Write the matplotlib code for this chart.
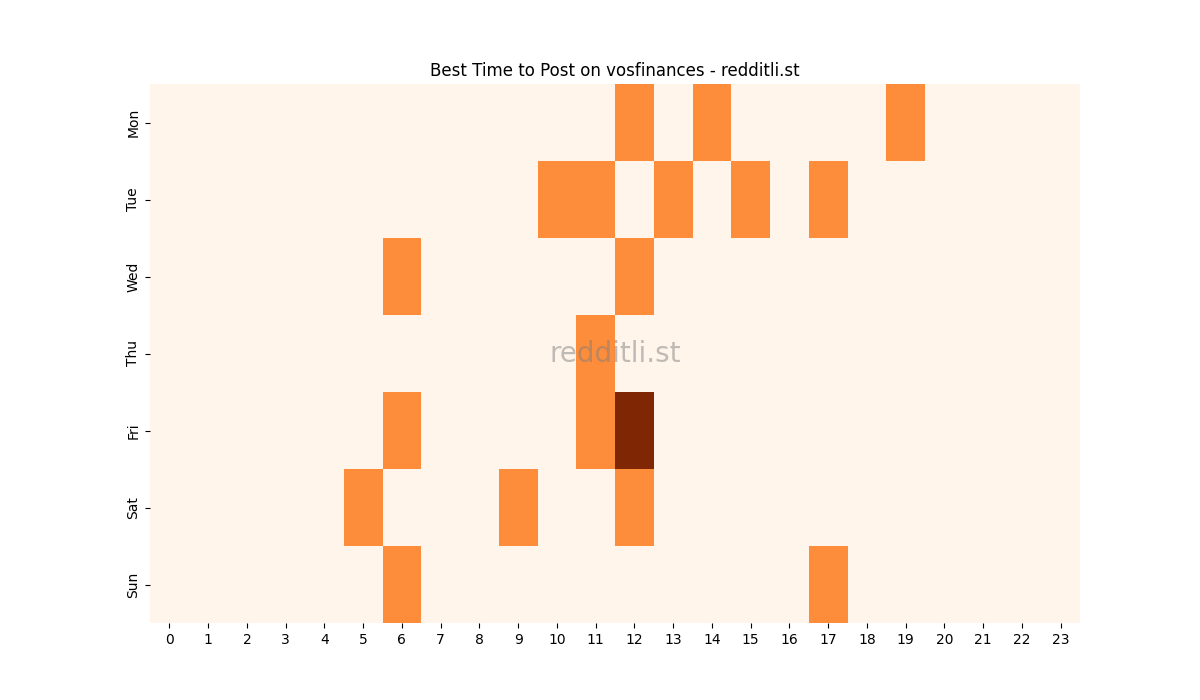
import numpy as np
import matplotlib
matplotlib.use("Agg")
import matplotlib.pyplot as plt
import seaborn as sns

days = ["Mon", "Tue", "Wed", "Thu", "Fri", "Sat", "Sun"]
hours = list(range(24))

# posts per (day, hour)
mon = [0]*12 + [1, 0, 1, 0, 0, 0, 0, 1, 0, 0, 0, 0]
tue = [0]*10 + [1, 1, 0, 1, 0, 1, 0, 1, 0, 0, 0, 0, 0, 0]
wed = [0]*6 + [1, 0, 0, 0, 0, 0, 1] + [0]*11
thu = [0]*11 + [1] + [0]*12
fri = [0]*6 + [1, 0, 0, 0, 0, 1, 2] + [0]*11
sat = [0]*5 + [1, 0, 0, 0, 1, 0, 0, 1] + [0]*11
sun = [0]*6 + [1] + [0]*10 + [1] + [0]*6

data = np.array([mon, tue, wed, thu, fri, sat, sun])

fig, ax = plt.subplots(figsize=(12, 7), dpi=100)
sns.heatmap(data, cmap="Oranges", cbar=False, xticklabels=hours,
            yticklabels=days, ax=ax)
ax.set_title("Best Time to Post on vosfinances - redditli.st")
ax.text(0.5, 0.5, "redditli.st", transform=ax.transAxes, fontsize=20,
        color="gray", alpha=0.5, ha="center", va="center")

plt.savefig("out.png")
